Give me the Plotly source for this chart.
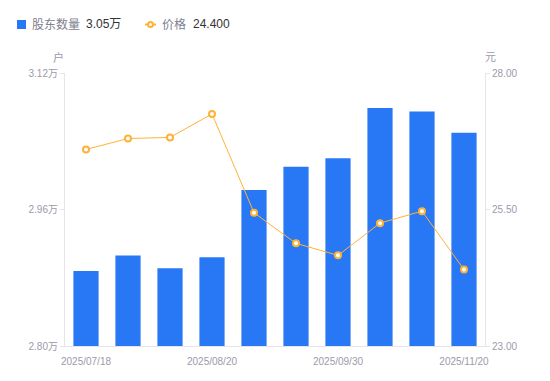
import plotly.graph_objects as go

dates = ["2025/07/18", "2025/07/31", "2025/08/10", "2025/08/20", "2025/08/31",
         "2025/09/10", "2025/09/30", "2025/10/20", "2025/10/31", "2025/11/20"]
holders_wan = [2.888, 2.906, 2.891, 2.904, 2.983, 3.010, 3.020, 3.079, 3.075, 3.050]
price = [26.60, 26.80, 26.82, 27.25, 25.44, 24.88, 24.66, 25.25, 25.47, 24.40]
x_tick_labels = ["2025/07/18", "2025/08/20", "2025/09/30", "2025/11/20"]
left_ticks = [2.80, 2.96, 3.12]
right_ticks = [23.00, 25.50, 28.00]

W, H = 550, 381
L, R, T, B = 65, 65, 73, 35
PW = W - L - R
PH = H - T - B

def px(x):
    return (x - L) / PW

def py(y):
    return (H - B - y) / PH

BAR = "#2878F5"
ORANGE = "#FFB238"
TICKC = "#9B9BAA"
AXC = "#E6E6EA"
FONT = "Liberation Sans, Arial, Noto Sans CJK SC, sans-serif"

fig = go.Figure()
fig.add_trace(go.Bar(
    x=dates, y=holders_wan, width=0.6, marker=dict(color=BAR, line=dict(width=0)),
    name="股东数量", yaxis="y"))
fig.add_trace(go.Scatter(
    x=dates, y=price, mode="lines+markers", yaxis="y2", name="价格",
    line=dict(color=ORANGE, width=1),
    marker=dict(symbol="circle", size=6, color="white", line=dict(color=ORANGE, width=2))))

fig.update_layout(
    width=W, height=H, margin=dict(l=L, r=R, t=T, b=B),
    paper_bgcolor="white", plot_bgcolor="white", showlegend=False,
    font=dict(family=FONT, size=10, color=TICKC),
    xaxis=dict(type="category", tickmode="array", tickvals=x_tick_labels, ticktext=x_tick_labels,
               showline=True, linecolor=AXC, linewidth=1, showgrid=False,
               ticks="outside", ticklen=6, tickcolor="rgba(0,0,0,0)",
               tickfont=dict(size=10, color=TICKC), range=[-0.5, len(dates) - 0.5]),
    yaxis=dict(range=[left_ticks[0], left_ticks[-1]], tickvals=left_ticks,
               ticktext=[f"{v:.2f}万" for v in left_ticks],
               showline=True, linecolor=AXC, linewidth=1, showgrid=False, zeroline=False,
               ticks="outside", ticklen=4, tickcolor=AXC, tickfont=dict(size=10, color=TICKC)),
    yaxis2=dict(range=[right_ticks[0], right_ticks[-1]], tickvals=right_ticks,
                ticktext=[f"{v:.2f}" for v in right_ticks], overlaying="y", side="right",
                showline=True, linecolor=AXC, linewidth=1, showgrid=False, zeroline=False,
                ticks="outside", ticklen=4, tickcolor=AXC, tickfont=dict(size=10, color=TICKC)),
    bargap=0.4,
)

ann = [
    dict(x=px(58), y=py(57), text="户", font=dict(size=11, color=TICKC)),
    dict(x=px(490), y=py(57), text="元", font=dict(size=11, color=TICKC)),
    dict(x=px(30), y=py(24.5), text="股东数量", font=dict(size=12, color="#80808E"), xanchor="left"),
    dict(x=px(84), y=py(24.5), text=f"{holders_wan[-1]:.2f}万", font=dict(size=12, color="#333333"), xanchor="left"),
    dict(x=px(160), y=py(24.5), text="价格", font=dict(size=12, color="#80808E"), xanchor="left"),
    dict(x=px(191), y=py(24.5), text=f"{price[-1]:.3f}", font=dict(size=12, color="#333333"), xanchor="left"),
]
for a in ann:
    a.update(xref="paper", yref="paper", showarrow=False, yanchor="middle")
    a.setdefault("xanchor", "center")
fig.update_layout(annotations=ann)

shapes = [
    dict(type="rect", x0=px(17), x1=px(26), y0=py(20), y1=py(29),
         fillcolor=BAR, line=dict(width=0)),
    dict(type="line", x0=px(145), x1=px(156), y0=py(24.5), y1=py(24.5),
         line=dict(color=ORANGE, width=2)),
    dict(type="circle", x0=px(148), x1=px(153), y0=py(22), y1=py(27),
         fillcolor="white", line=dict(color=ORANGE, width=2)),
]
for s in shapes:
    s.update(xref="paper", yref="paper")
fig.update_layout(shapes=shapes)

fig.write_html("out.html", config={"displayModeBar": False},
               post_script="document.body.style.margin='0';document.body.style.overflow='hidden';")
